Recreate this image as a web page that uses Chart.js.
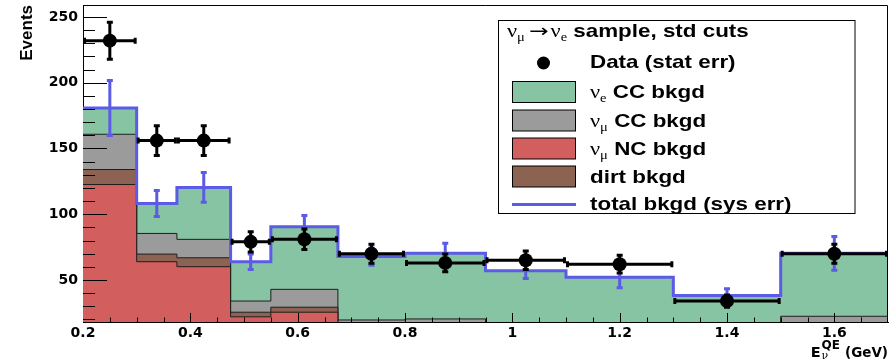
<!DOCTYPE html>
<html><head><meta charset="utf-8">
<script src="https://cdn.jsdelivr.net/npm/chart.js@4.4.1/dist/chart.umd.min.js"></script>
<style>html,body{margin:0;padding:0;background:#fff;}canvas{display:block;}</style>
</head><body>
<canvas id="c" width="890" height="364"></canvas>
<script>
// ---- data ----
const binEdges = [0.2, 0.3, 0.375, 0.475, 0.55, 0.675, 0.8, 0.95, 1.1, 1.3, 1.5, 1.7];
const dataCounts = [232, 156, 156, 79, 81, 70, 63, 65, 62, 34, 70];
const dataStatErr = [15.2, 12.5, 12.5, 8.9, 9.0, 8.4, 7.9, 8.1, 7.9, 5.8, 8.4];
const numuNC = [122.6, 63.9, 60.1, 22.0, 25.5, 10.0, 9.0, 7.0, 6.0, 5.0, 8.0];
const dirt   = [11.4, 5.8, 6.8, 3.5, 3.8, 3.0, 3.0, 3.0, 3.0, 3.0, 4.0];
const numuCC = [26.8, 15.7, 14.0, 8.5, 13.6, 6.6, 8.4, 6.0, 6.0, 5.0, 10.4];
const nueCC  = [20.0, 22.8, 39.5, 29.9, 47.6, 48.2, 49.9, 41.1, 37.0, 25.2, 47.9];
const totalSysErr = [22, 11, 12.5, 7, 9.6, 7.7, 8.8, 7.1, 9.1, 6.3, 14];
const xTickValues = [0.2, 0.4, 0.6, 0.8, 1.0, 1.2, 1.4, 1.6];
const xTickLabels = ['0.2', '0.4', '0.6', '0.8', '1', '1.2', '1.4', '1.6'];
const yTickValues = [50, 100, 150, 200, 250];
const yTickLabels = ['50', '100', '150', '200', '250'];

// ---- derived ----
function cumulative(...arrs) { return arrs[0].map((_, i) => arrs.reduce((s, a) => s + a[i], 0)); }
const cumNC = cumulative(numuNC);
const cumDirt = cumulative(numuNC, dirt);
const cumNumuCC = cumulative(numuNC, dirt, numuCC);
const cumNueCC = cumulative(numuNC, dirt, numuCC, nueCC);
const totalBkgd = cumNueCC;
const centers = binEdges.slice(0, -1).map((e, i) => (e + binEdges[i + 1]) / 2);
function steps(vals) {
  const pts = vals.map((v, i) => ({x: binEdges[i], y: v}));
  pts.push({x: binEdges[binEdges.length - 1], y: vals[vals.length - 1]});
  return pts;
}

const C = {green: '#86c4a4', gray: '#9b9b9b', red: '#d25e5e', brown: '#8c6353', blue: '#5b5be6', edge: '#1e1e1e'};
const tickFont = {family: 'DejaVu Sans', weight: 'bold', size: 14};

function histDS(label, vals, color) {
  return {label, data: steps(vals), stepped: true, fill: 'start', backgroundColor: color,
    borderColor: C.edge, borderWidth: 1, pointRadius: 0, tension: 0};
}

function sText(ctx, s, x, y, font, sx) {
  ctx.save(); ctx.font = font; const w = ctx.measureText(s).width * sx;
  ctx.translate(x, y); ctx.scale(sx, 1); ctx.fillText(s, 0, 0); ctx.restore();
  return x + w;
}

const decor = {
  id: 'decor',
  afterDatasetDraw(chart, args) {
    if (args.index !== 1) return;
    const {ctx, chartArea: a, scales: {x, y}} = chart;
    ctx.save();
    ctx.beginPath(); ctx.rect(a.left, a.top, a.right - a.left, a.bottom - a.top); ctx.clip();
    ctx.strokeStyle = C.blue; ctx.lineWidth = 3;
    centers.forEach((c, i) => {
      const px = x.getPixelForValue(c);
      const y1 = y.getPixelForValue(totalBkgd[i] + totalSysErr[i]);
      const y2 = y.getPixelForValue(totalBkgd[i] - totalSysErr[i]);
      ctx.beginPath();
      ctx.moveTo(px, y1); ctx.lineTo(px, y2);
      ctx.moveTo(px - 3, y1 + 1.5); ctx.lineTo(px + 3, y1 + 1.5);
      ctx.moveTo(px - 3, y2 - 1.5); ctx.lineTo(px + 3, y2 - 1.5);
      ctx.stroke();
    });
    ctx.restore();
  },
  afterDatasetsDraw(chart) {
    const {ctx, chartArea: a, scales: {x, y}} = chart;
    ctx.save();
    // inward ticks
    ctx.strokeStyle = '#000'; ctx.lineWidth = 1;
    ctx.beginPath();
    for (let k = 2; k <= 25; k++) {
      const v = k * 10; const py = Math.round(y.getPixelForValue(v)) + 0.5;
      const len = (v % 50 === 0) ? 24 : 12;
      ctx.moveTo(a.left, py); ctx.lineTo(a.left + len, py);
    }
    for (let k = 5; k <= 33; k++) {
      const v = k * 0.05; const px = Math.round(x.getPixelForValue(v)) + 0.5;
      const len = (k % 4 === 0) ? 9 : 4.5;
      ctx.moveTo(px, a.bottom); ctx.lineTo(px, a.bottom - len);
    }
    // frame top and right
    ctx.moveTo(a.left, a.top + 0.5); ctx.lineTo(a.right - 0.5, a.top + 0.5); ctx.lineTo(a.right - 0.5, a.bottom);
    ctx.stroke();
    // data error bars
    ctx.beginPath(); ctx.rect(a.left, a.top, a.right - a.left, a.bottom - a.top); ctx.clip();
    ctx.strokeStyle = '#000'; ctx.lineWidth = 3;
    centers.forEach((c, i) => {
      const px = x.getPixelForValue(c);
      const py = y.getPixelForValue(dataCounts[i]);
      const xl = x.getPixelForValue(binEdges[i]), xr = x.getPixelForValue(binEdges[i + 1]);
      const y1 = y.getPixelForValue(dataCounts[i] + dataStatErr[i]);
      const y2 = y.getPixelForValue(dataCounts[i] - dataStatErr[i]);
      ctx.beginPath();
      ctx.moveTo(xl, py); ctx.lineTo(xr, py);
      ctx.moveTo(xl + 1.5, py - 3); ctx.lineTo(xl + 1.5, py + 3);
      ctx.moveTo(xr - 1.5, py - 3); ctx.lineTo(xr - 1.5, py + 3);
      ctx.moveTo(px, y1); ctx.lineTo(px, y2);
      ctx.moveTo(px - 3, y1 + 1.5); ctx.lineTo(px + 3, y1 + 1.5);
      ctx.moveTo(px - 3, y2 - 1.5); ctx.lineTo(px + 3, y2 - 1.5);
      ctx.stroke();
    });
    ctx.restore();
  },
  afterDraw(chart) {
    const ctx = chart.ctx;
    ctx.save();
    ctx.fillStyle = '#000'; ctx.textAlign = 'left'; ctx.textBaseline = 'alphabetic';
    // x axis title  E_nu^QE (GeV)
    const base = 356.5, xr = 888;
    ctx.font = 'bold 13.5px "DejaVu Sans"';
    const wG = ctx.measureText('(GeV)').width;
    ctx.fillText('(GeV)', xr - wG, base);
    let xc = xr - wG - 5;
    ctx.font = 'bold 12px "DejaVu Sans"';
    const wQE = ctx.measureText('QE').width;
    ctx.fillText('QE', xc - wQE, base - 8);
    ctx.font = '11px "DejaVu Serif"';
    ctx.fillText('\u03bd', xc - wQE, base + 2);
    xc -= wQE + 1;
    ctx.font = 'bold 14.5px "DejaVu Sans"';
    const wE = ctx.measureText('E').width;
    ctx.fillText('E', xc - wE, base);

    // legend
    const L = 498.5, T = 20.5, W = 356.5, H = 193;
    ctx.fillStyle = '#fff'; ctx.fillRect(L, T, W, H);
    ctx.strokeStyle = '#000'; ctx.lineWidth = 1; ctx.strokeRect(L, T, W, H);
    ctx.fillStyle = '#000';
    const sx = 1.21;
    const bold = 'bold 18.5px "Liberation Sans"';
    const nuF = '18.5px "Liberation Serif"';
    const subF = '12px "Liberation Serif"';
    // title row
    let tx = sText(ctx, '\u03bd', 507, 37, nuF, sx);
    tx = sText(ctx, '\u03bc', tx, 41, subF, sx);
    tx = sText(ctx, '\u2192', tx + 4, 37, '18px "DejaVu Sans"', 1.3);
    tx = sText(ctx, '\u03bd', tx + 2, 37, nuF, sx);
    tx = sText(ctx, 'e', tx, 41, subF, sx);
    sText(ctx, ' sample, std cuts', tx, 37, bold, sx);

    const rows = [
      {b: 68, type: 'dot', parts: [['Data (stat err)']]},
      {b: 98, type: 'box', color: C.green, parts: [['\u03bd', 'e'], [' CC bkgd']]},
      {b: 126.5, type: 'box', color: C.gray, parts: [['\u03bd', '\u03bc'], [' CC bkgd']]},
      {b: 154.5, type: 'box', color: C.red, parts: [['\u03bd', '\u03bc'], [' NC bkgd']]},
      {b: 182.5, type: 'box', color: C.brown, parts: [['dirt bkgd']]},
      {b: 210, type: 'line', parts: [['total bkgd (sys err)']]}
    ];
    rows.forEach(r => {
      if (r.type === 'box') {
        ctx.fillStyle = r.color; ctx.fillRect(512.5, r.b - 16.5, 63, 21);
        ctx.strokeStyle = '#000'; ctx.lineWidth = 1; ctx.strokeRect(512.5, r.b - 16.5, 63, 21);
      } else if (r.type === 'dot') {
        ctx.fillStyle = '#000'; ctx.beginPath(); ctx.arc(543.5, r.b - 5, 6.5, 0, Math.PI * 2); ctx.fill();
      } else {
        ctx.strokeStyle = C.blue; ctx.lineWidth = 3; ctx.beginPath();
        ctx.moveTo(512, r.b - 5.5); ctx.lineTo(576, r.b - 5.5); ctx.stroke();
      }
      ctx.fillStyle = '#000';
      let px = 590;
      r.parts.forEach(p => {
        if (p.length === 2) {
          px = sText(ctx, p[0], px, r.b, nuF, sx);
          px = sText(ctx, p[1], px, r.b + 4, subF, sx);
        } else {
          px = sText(ctx, p[0], px, r.b, bold, sx);
        }
      });
    });
    ctx.restore();
  }
};

new Chart(document.getElementById('c'), {
  type: 'line',
  data: {
    datasets: [
      {label: 'Data (stat err)', data: centers.map((c, i) => ({x: c, y: dataCounts[i]})), showLine: false,
        pointRadius: 7, pointStyle: 'circle', pointBackgroundColor: '#000', pointBorderColor: '#000', pointBorderWidth: 0},
      {label: 'total bkgd (sys err)', data: steps(totalBkgd), stepped: true, fill: false,
        borderColor: C.blue, borderWidth: 3, pointRadius: 0},
      histDS('\u03bd\u03bc NC bkgd', cumNC, C.red),
      histDS('dirt bkgd', cumDirt, C.brown),
      histDS('\u03bd\u03bc CC bkgd', cumNumuCC, C.gray),
      histDS('\u03bde CC bkgd', cumNueCC, C.green)
    ]
  },
  options: {
    responsive: false, animation: false, devicePixelRatio: 1, events: [],
    layout: {autoPadding: false, padding: {top: 5, right: 2, left: 0, bottom: 0}},
    plugins: {legend: {display: false}, tooltip: {enabled: false}},
    scales: {
      x: {
        type: 'linear', min: 0.2, max: 1.7,
        afterFit: s => { s.height = 42; s.paddingLeft = 0; s.paddingRight = 0; },
        afterBuildTicks: s => { s.ticks = xTickValues.map(v => ({value: v})); },
        ticks: {callback: v => xTickLabels[xTickValues.indexOf(v)], font: tickFont, color: '#000',
          padding: 3, maxRotation: 0, autoSkip: false},
        grid: {display: false, drawTicks: false},
        border: {display: true, color: '#000', width: 1}
      },
      y: {
        type: 'linear', min: 18.06, max: 259.1,
        afterFit: s => { s.width = 83; s.paddingTop = 0; s.paddingBottom = 0; },
        afterBuildTicks: s => { s.ticks = yTickValues.map(v => ({value: v})); },
        ticks: {callback: v => yTickLabels[yTickValues.indexOf(v)], font: tickFont, color: '#000', padding: 5},
        grid: {display: false, drawTicks: false},
        border: {display: true, color: '#000', width: 1},
        title: {display: true, text: 'Events', align: 'end', color: '#000',
          font: {family: 'Liberation Sans', weight: 'bold', size: 17}, padding: {top: 17, bottom: 0}}
      }
    }
  },
  plugins: [decor]
});
</script>
</body></html>
